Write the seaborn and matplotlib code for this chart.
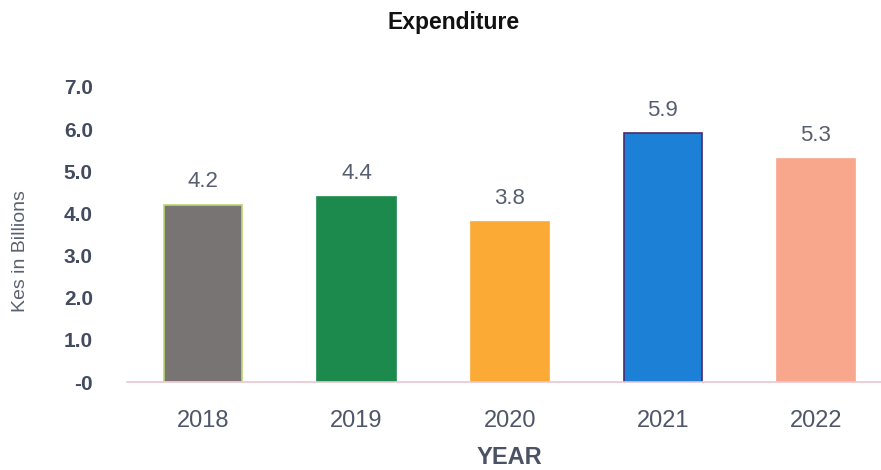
import matplotlib
matplotlib.use("Agg")
import matplotlib.pyplot as plt
import seaborn as sns
import pandas as pd

sns.set_style("white")
plt.rcParams["font.family"] = ["Liberation Sans", "DejaVu Sans"]

years = ["2018", "2019", "2020", "2021", "2022"]
spend = [4.2, 4.4, 3.8, 5.9, 5.3]
bar_colors = ["#787474", "#1b8a4c", "#fbaa35", "#1c80d6", "#f8a68c"]
edge_colors = ["#b8d870", "#1b8a4c", "#fbaa35", "#4a2a70", "#f8a68c"]
ytick_vals = [0, 1, 2, 3, 4, 5, 6, 7]
ytick_labels = ["-0", "1.0", "2.0", "3.0", "4.0", "5.0", "6.0", "7.0"]

df = pd.DataFrame({"Year": years, "Spend": spend})

fig = plt.figure(figsize=(8.81, 4.70), dpi=100)
ax = fig.add_axes([0.144, 0.187, 0.869, 0.628])

sns.barplot(data=df, x="Year", y="Spend", hue="Year", palette=bar_colors,
            width=0.51, legend=False, ax=ax, saturation=1)
for bar, ec in zip(ax.patches, edge_colors):
    bar.set_edgecolor(ec)
    bar.set_linewidth(1.2)

for i, v in enumerate(spend):
    ax.text(i, v + 0.3, f"{v:.1f}", ha="center", va="bottom",
            fontsize=16, color="#565e70")

ax.set_xlim(-0.5, 4.5)
ax.set_ylim(0, 7)
ax.set_yticks(ytick_vals)
ax.set_yticklabels(ytick_labels, fontsize=15, fontweight="bold", color="#434b5e")
ax.tick_params(axis="y", length=0, pad=24.5)
ax.tick_params(axis="x", length=0, pad=20, labelsize=17, labelcolor="#4e566a")

for s in ["top", "right", "left"]:
    ax.spines[s].set_visible(False)
ax.spines["bottom"].set_color("#ebc6d0")
ax.spines["bottom"].set_linewidth(1.2)

ax.set_xlabel("YEAR", fontsize=17, fontweight="bold", color="#4a5264", labelpad=10)
ax.set_ylabel("")
fig.text(0.023, 0.466, "Kes in Billions", rotation=90, ha="center", va="center",
         fontsize=14, color="#5a6272")
fig.text(0.515, 0.952, "Expenditure", ha="center", va="center",
         fontsize=16.5, fontweight="bold", color="#111111")

fig.savefig("out.png", dpi=100)
